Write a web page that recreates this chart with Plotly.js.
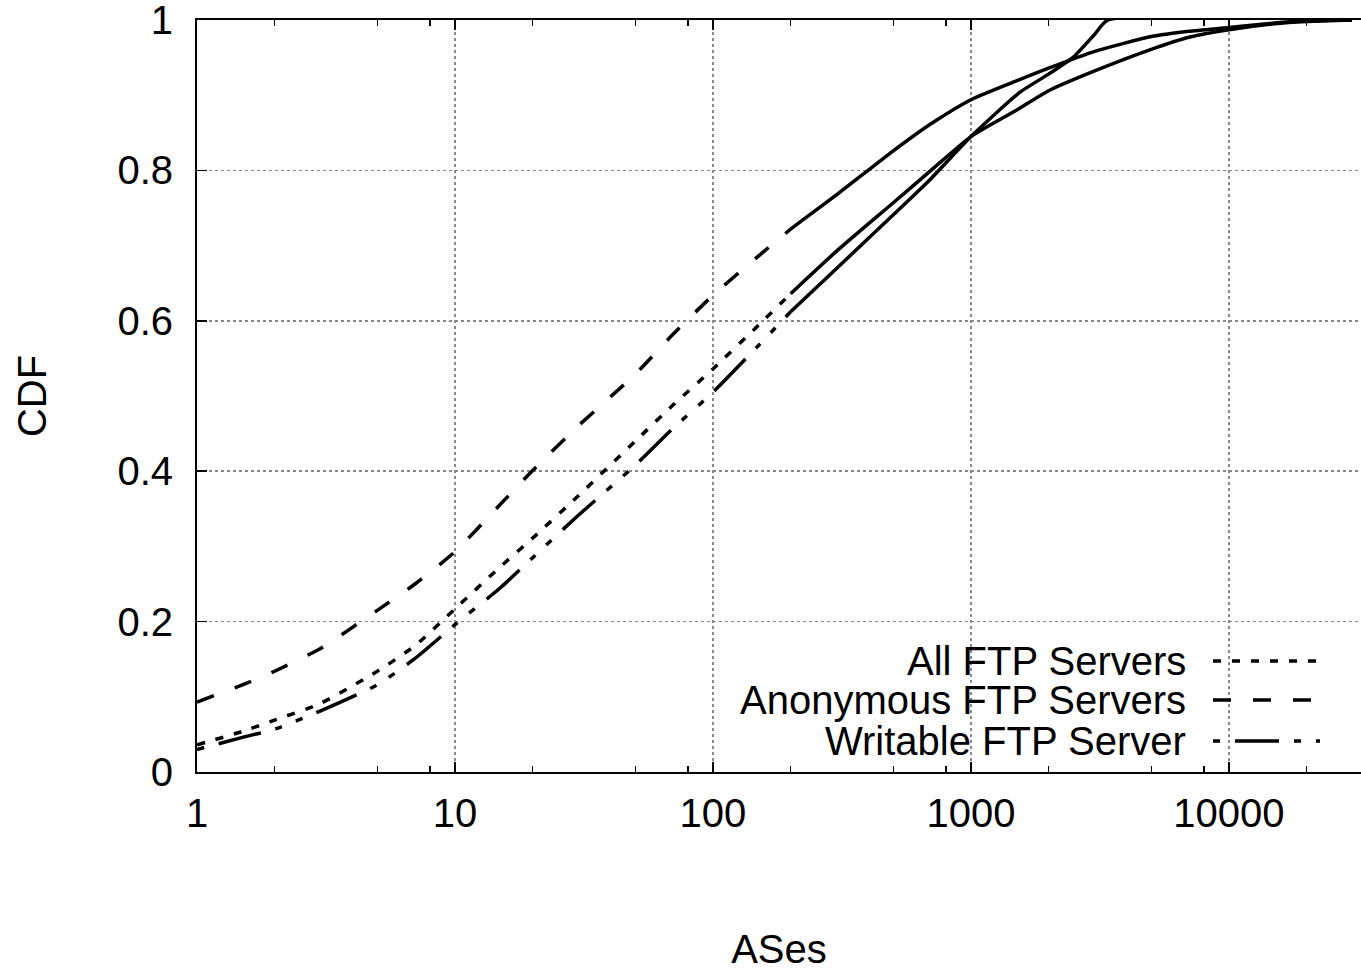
<!DOCTYPE html>
<html>
<head>
<meta charset="utf-8">
<script src="https://cdn.plot.ly/plotly-3.0.1.min.js"></script>
<style>html,body{margin:0;padding:0;background:#fff;}#chart{width:1361px;height:971px;}</style>
</head>
<body>
<div id="chart"></div>
<script>
// ---- data ----
var seriesNames = ["All FTP Servers", "Anonymous FTP Servers", "Writable FTP Server"];

var xAll  = [1, 1.5, 2, 3, 5, 7, 10, 15, 20, 30, 50, 70, 100, 150, 200, 300, 500, 700, 1000, 1500, 2000, 3000, 5000, 7000, 10000, 15000, 20000, 30000];
var yAll  = [0.036, 0.054, 0.069, 0.091, 0.134, 0.168, 0.217, 0.273, 0.311, 0.367, 0.440, 0.488, 0.536, 0.594, 0.636, 0.692, 0.757, 0.800, 0.845, 0.880, 0.906, 0.932, 0.961, 0.977, 0.987, 0.995, 0.998, 1.0];

var xAnon = [1, 1.5, 2, 3, 5, 7, 10, 15, 20, 30, 50, 70, 100, 150, 200, 300, 500, 700, 1000, 1500, 2000, 3000, 5000, 7000, 10000, 15000, 20000, 30000];
var yAnon = [0.093, 0.116, 0.134, 0.164, 0.215, 0.250, 0.293, 0.356, 0.401, 0.460, 0.529, 0.582, 0.634, 0.686, 0.722, 0.767, 0.826, 0.862, 0.894, 0.919, 0.936, 0.958, 0.978, 0.985, 0.990, 0.996, 0.999, 1.0];

var xWrit = [1, 1.5, 2, 3, 5, 7, 10, 15, 20, 30, 50, 70, 100, 150, 200, 300, 500, 700, 1000, 1550, 2000, 2500, 3000, 3400, 30000];
var yWrit = [0.030, 0.046, 0.057, 0.081, 0.116, 0.151, 0.196, 0.245, 0.285, 0.341, 0.408, 0.457, 0.505, 0.567, 0.612, 0.669, 0.741, 0.789, 0.845, 0.904, 0.928, 0.951, 0.980, 1.0, 1.0];

var xTickVals  = [1, 10, 100, 1000, 10000];
var xTickText  = ["1", "10", "100", "1000", "10000"];
var xMinorVals = [2, 5, 8, 20, 50, 80, 200, 500, 800, 2000, 5000, 8000, 20000];
var yTickVals  = [0, 0.2, 0.4, 0.6, 0.8, 1];
var yTickText  = ["0", "0.2", "0.4", "0.6", "0.8", "1"];

// ---- styles ----
var FONT = "Liberation Sans, Arial, Helvetica, sans-serif";
var FS = 40;
var dashes = ["8px,11px", "18px,22px", "7px,15px,44px,15px,7px,15px"];
var LW = 3.5;
var splitX = 200; // gnuplot draws the dense upper part as a continuous line

var sets = [[xAll, yAll], [xAnon, yAnon], [xWrit, yWrit]];
var traces = [];
sets.forEach(function (s, i) {
  var xs = s[0], ys = s[1];
  var k = xs.indexOf(splitX);
  traces.push({
    x: xs.slice(0, k + 1), y: ys.slice(0, k + 1), name: seriesNames[i],
    type: "scatter", mode: "lines", showlegend: false, hoverinfo: "skip",
    line: {color: "#000", width: LW, dash: dashes[i], shape: "spline", smoothing: 0.6}
  });
  traces.push({
    x: xs.slice(k), y: ys.slice(k), name: seriesNames[i],
    type: "scatter", mode: "lines", showlegend: false, hoverinfo: "skip",
    line: {color: "#000", width: LW, dash: "solid", shape: "spline", smoothing: 0.6}
  });
});

// legend (gnuplot style: text right-aligned, sample on the right)
var L = 197, W = 1164, T = 20, H = 752;
function px2x(p) { return (p - L) / W; }
function py2y(p) { return (T + H - p) / H; }
var rowY = [661, 700, 741];
var annotations = [], shapes = [];
shapes.push({type: "rect", xref: "paper", yref: "paper", layer: "between",
  x0: px2x(702), x1: 1, y0: py2y(771), y1: py2y(645),
  line: {width: 0}, fillcolor: "#fff"});
seriesNames.forEach(function (n, i) {
  annotations.push({xref: "paper", yref: "paper", x: px2x(1188), y: py2y(rowY[i]),
    xanchor: "right", yanchor: "middle", showarrow: false, text: n,
    font: {family: FONT, size: FS, color: "#000"}});
  shapes.push({type: "line", xref: "paper", yref: "paper", layer: "above",
    x0: px2x(1213), x1: px2x(1320), y0: py2y(rowY[i]), y1: py2y(rowY[i]),
    line: {color: "#000", width: LW, dash: dashes[i]}});
});

var layout = {
  width: 1361, height: 971,
  margin: {l: L, r: 1361 - L - W, t: T, b: 971 - T - H, pad: 0},
  paper_bgcolor: "#fff", plot_bgcolor: "#fff",
  showlegend: false,
  font: {family: FONT, size: FS, color: "#000"},
  xaxis: {
    type: "log", range: [0, Math.log10(32500)], autorange: false,
    tickvals: xTickVals, ticktext: xTickText,
    ticks: "inside", ticklen: 10, tickwidth: 1.5, tickcolor: "#000",
    showline: true, linecolor: "#000", linewidth: 2, mirror: "allticks",
    showgrid: true, gridcolor: "#888", gridwidth: 1.5, griddash: "dot",
    zeroline: false,
    minor: {tickvals: xMinorVals, ticks: "inside", ticklen: 6, tickwidth: 1.5, tickcolor: "#000", showgrid: false},
    tickfont: {family: FONT, size: FS, color: "#000"},
    ticklabelstandoff: 5, ticklabeloverflow: "allow",
    title: {text: "ASes", font: {family: FONT, size: FS, color: "#000"}, standoff: 104},
    automargin: false
  },
  yaxis: {
    range: [0, 1], autorange: false,
    tickvals: yTickVals, ticktext: yTickText,
    ticks: "inside", ticklen: 10, tickwidth: 1.5, tickcolor: "#000",
    showline: true, linecolor: "#000", linewidth: 2, mirror: false,
    showgrid: true, gridcolor: "#888", gridwidth: 1.5, griddash: "dot",
    zeroline: false,
    tickfont: {family: FONT, size: FS, color: "#000"},
    ticklabelstandoff: 14, ticklabeloverflow: "allow",
    title: {text: "CDF", font: {family: FONT, size: FS, color: "#000"}, standoff: 58},
    automargin: false
  },
  annotations: annotations,
  shapes: shapes
};

Plotly.newPlot("chart", traces, layout, {displayModeBar: false, staticPlot: true});
</script>
</body>
</html>
